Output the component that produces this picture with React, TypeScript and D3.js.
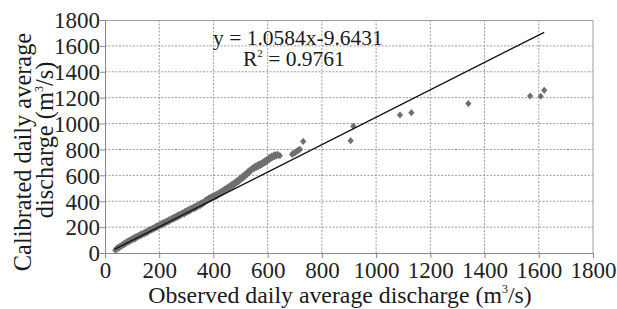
import React, { useEffect, useRef } from 'react';
import * as d3 from 'd3';

// observed vs calibrated daily average discharge (m3/s)
const observed = [
  38, 42, 45, 48, 52, 55, 58, 62, 65, 68, 72, 75, 78, 82, 85, 88, 92, 95, 98, 102,
  105, 108, 112, 115, 118, 122, 125, 128, 132, 135, 138, 142, 145, 148, 152, 155, 158, 162, 165, 168,
  172, 175, 178, 182, 185, 188, 192, 195, 198, 202, 205, 208, 212, 215, 218, 222, 225, 228, 232, 235,
  238, 242, 245, 248, 252, 255, 258, 262, 265, 268, 272, 275, 278, 282, 285, 288, 292, 295, 298, 302,
  305, 308, 312, 315, 318, 322, 325, 328, 332, 335, 338, 342, 345, 348, 352, 355, 358, 362, 365, 368,
  372, 375, 378, 382, 385, 388, 392, 395, 398, 402, 405, 408, 412, 415, 418, 422, 425, 428, 432, 435,
  438, 442, 445, 448, 452, 455, 458, 462, 465, 468, 472, 475, 478, 482, 485, 488, 492, 495, 498, 502,
  505, 508, 512, 515, 518, 522, 525, 528, 532, 535, 538, 542, 545, 548, 552, 555, 558, 562, 565, 568,
  572, 575, 578, 582, 585, 588, 592, 595, 598, 602, 605, 608, 612, 615, 618, 622, 625, 628, 632, 636,
  640, 645, 690, 694, 698, 702, 706, 710, 714, 719, 731, 906, 916, 1088, 1130, 1340, 1568, 1607, 1620,
];
const calibrated = [
  22, 34, 30, 44, 40, 52, 49, 61, 58, 71, 66, 80, 75, 88, 84, 96, 92, 104, 99, 112,
  106, 119, 111, 127, 121, 133, 128, 141, 134, 149, 141, 153, 148, 162, 155, 170, 162, 176, 170, 183,
  178, 190, 184, 197, 192, 205, 197, 213, 205, 219, 213, 227, 218, 235, 226, 240, 235, 247, 240, 256,
  247, 261, 255, 270, 262, 277, 267, 284, 275, 292, 282, 298, 290, 304, 298, 312, 303, 321, 310, 327,
  318, 334, 324, 343, 332, 348, 340, 357, 345, 364, 353, 370, 362, 378, 368, 387, 376, 392, 385, 402,
  398, 414, 406, 422, 413, 430, 420, 437, 428, 441, 434, 450, 440, 458, 449, 465, 458, 475, 466, 484,
  475, 493, 483, 502, 492, 511, 502, 520, 512, 530, 520, 540, 530, 550, 541, 560, 550, 572, 562, 583,
  573, 594, 585, 605, 596, 618, 608, 630, 622, 642, 636, 652, 648, 662, 656, 672, 662, 680, 668, 686,
  674, 692, 682, 700, 692, 710, 700, 720, 710, 730, 720, 740, 730, 748, 738, 755, 745, 760, 750, 762,
  755, 752, 762, 768, 773, 778, 784, 790, 795, 800, 862, 868, 980, 1066, 1084, 1154, 1213, 1211, 1257,
];

// linear trend y = 1.0584x - 9.6431, drawn between these x values
const slope = 1.0584;
const intercept = -9.6431;
const trendRange = [35, 1620];

const ticks = [0, 200, 400, 600, 800, 1000, 1200, 1400, 1600, 1800];

const W = 617, H = 309;
const margin = { top: 20, right: 24, bottom: 56, left: 105 };

const App = () => {
  const ref = useRef<SVGSVGElement>(null);

  useEffect(() => {
    const svg = d3.select(ref.current);
    svg.selectAll('*').remove();

    const width = W - margin.left - margin.right;
    const height = H - margin.top - margin.bottom;

    const x = d3.scaleLinear().domain([0, 1800]).range([0, width]);
    const y = d3.scaleLinear().domain([0, 1800]).range([height, 0]);

    const g = svg.append('g')
      .attr('transform', 'translate(' + margin.left + ',' + margin.top + ')');

    // dashed grid
    g.append('g').selectAll('line.v')
      .data(ticks.slice(1, -1))
      .enter().append('line')
      .attr('x1', d => x(d)).attr('x2', d => x(d))
      .attr('y1', 0).attr('y2', height)
      .attr('stroke', '#9a9a9a').attr('stroke-dasharray', '2,1.5');
    g.append('g').selectAll('line.h')
      .data(ticks.slice(1, -1))
      .enter().append('line')
      .attr('x1', 0).attr('x2', width)
      .attr('y1', d => y(d)).attr('y2', d => y(d))
      .attr('stroke', '#9a9a9a').attr('stroke-dasharray', '2,1.5');

    // frame top/right
    g.append('path')
      .attr('d', `M0,0.5H${width}V${height}`)
      .attr('fill', 'none').attr('stroke', '#a0a0a0');

    const font = 'Liberation Serif, DejaVu Serif, serif';

    const xAxis = g.append('g')
      .attr('transform', 'translate(0,' + height + ')')
      .call(d3.axisBottom(x).tickValues(ticks).tickSize(5).tickPadding(3).tickFormat(d3.format('d')));
    const yAxis = g.append('g')
      .call(d3.axisLeft(y).tickValues(ticks).tickSize(5).tickPadding(0).tickFormat(d3.format('d')));
    [xAxis, yAxis].forEach(a => {
      a.attr('font-family', null).attr('font-size', null);
      a.select('.domain').attr('stroke', '#8a8a8a');
      a.selectAll('.tick line').attr('stroke', '#8a8a8a');
      a.selectAll('text')
        .style('font-family', font).style('font-size', '23px').attr('fill', '#222');
    });
    yAxis.selectAll('text').attr('dy', '0.34em');
    xAxis.selectAll('text').attr('dy', '0.72em');

    // points
    const pts = observed.map((o, i) => [o, calibrated[i]]);
    g.append('g').selectAll('path')
      .data(pts)
      .enter().append('path')
      .attr('transform', d => `translate(${x(d[0])},${y(d[1])})`)
      .attr('d', 'M0,-3.6L3.1,0L0,3.6L-3.1,0Z')
      .attr('fill', '#6f6f6f');

    // trend line
    const line = d3.line<number>()
      .x(d => x(d))
      .y(d => y(slope * d + intercept));
    g.append('path')
      .datum(trendRange)
      .attr('d', line)
      .attr('fill', 'none')
      .attr('stroke', '#111')
      .attr('stroke-width', 1.3);

    const txt = (sel: any, size: number) =>
      sel.style('font-family', font).style('font-size', size + 'px').attr('fill', '#1a1a1a');

    // equation
    g.append('text').call(txt, 21.5)
      .attr('x', 108).attr('y', 25).text('y = 1.0584x-9.6431');
    const r2 = g.append('text').call(txt, 21.5)
      .attr('x', 138).attr('y', 46);
    r2.append('tspan').text('R');
    r2.append('tspan').style('font-size', '11px').attr('dy', -9).text('2');
    r2.append('tspan').attr('dy', 9).text(' = 0.9761');

    // axis titles
    const xt = svg.append('text').call(txt, 23.8)
      .attr('text-anchor', 'middle')
      .attr('x', 340).attr('y', 303);
    xt.append('tspan').text('Observed daily average discharge (m');
    xt.append('tspan').style('font-size', '12px').attr('dy', -10).text('3');
    xt.append('tspan').attr('dy', 10).text('/s)');

    svg.append('text').call(txt, 24.4)
      .attr('text-anchor', 'middle')
      .attr('transform', 'translate(31,152) rotate(-90)')
      .text('Calibrated daily average');
    const yt2 = svg.append('text').call(txt, 24.4)
      .attr('text-anchor', 'middle')
      .attr('transform', 'translate(53,140) rotate(-90)');
    yt2.append('tspan').text('discharge (m');
    yt2.append('tspan').style('font-size', '12px').attr('dy', -10).text('3');
    yt2.append('tspan').attr('dy', 10).text('/s)');
  }, []);

  return (
    <svg ref={ref} width={W} height={H}
      style={{ position: 'absolute', left: 0, top: 0, background: '#fff' }} />
  );
};

export default App;
